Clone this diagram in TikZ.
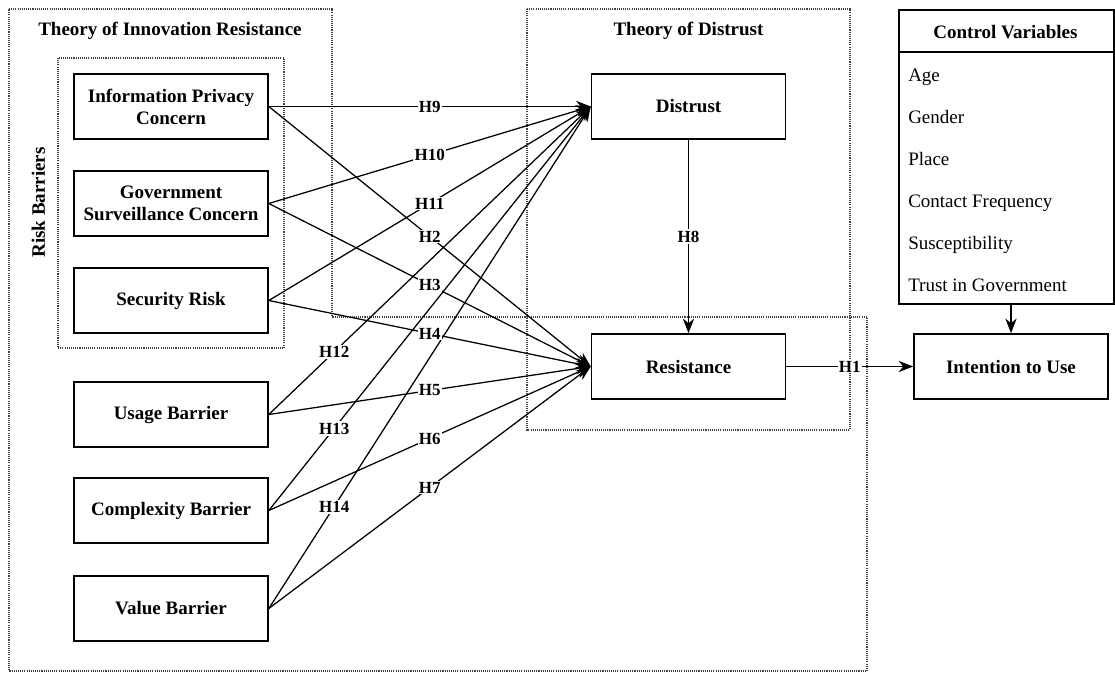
\documentclass[tikz,border=0pt]{standalone}
\usepackage{fontspec}
\setmainfont{Liberation Serif}
\usetikzlibrary{arrows.meta}
\begin{document}
\begin{tikzpicture}[x=0.75pt,y=-0.75pt,
  box/.style={draw, line width=1.2pt, minimum width=145.5pt, minimum height=48.75pt, inner sep=2pt, align=center, font=\bfseries\fontsize{14.25}{16.5}\selectfont},
  lab/.style={fill=white, inner sep=1pt, font=\bfseries\fontsize{12.75}{14}\selectfont},
  link/.style={line width=0.95pt, -{Stealth[length=11pt,width=8.5pt,inset=3.5pt]}},
  frame/.style={line width=0.8pt, black!75, dash pattern=on 0.8pt off 0.8pt},
  title/.style={font=\bfseries\fontsize{14.25}{16.5}\selectfont, anchor=base},
  item/.style={font=\fontsize{14.25}{16.5}\selectfont, anchor=base west, inner sep=0pt}]
\useasboundingbox (0,0) rectangle (1115,672);

% frames
\draw[frame] (9,9) -- (332,9) -- (332,317) -- (867,317) -- (867,671) -- (9,671) -- cycle;
\draw[frame] (58,58) rectangle (284,348);
\draw[frame] (527,9) rectangle (850,430);

% titles
\node[title] (tir) at (170,35.5) {Theory of Innovation Resistance};
\node[title] (tod) at (688.5,35.5) {Theory of Distrust};
\node[title, rotate=90, anchor=center] (rb) at (38.5,202.5) {Risk Barriers};

% boxes
\node[box] (ipc) at (171,106.5) {Information Privacy\\Concern};
\node[box] (gsc) at (171,203.5) {Government\\Surveillance Concern};
\node[box] (sr) at (171,300.5) {Security Risk};
\node[box] (ub) at (171,414.5) {Usage Barrier};
\node[box] (cb) at (171,510.5) {Complexity Barrier};
\node[box] (vb) at (171,608.5) {Value Barrier};
\node[box] (dis) at (688.5,106.5) {Distrust};
\node[box] (res) at (688.5,366.5) {Resistance};
\node[box] (itu) at (1011,366.5) {Intention to Use};

% control variables
\node[draw, line width=1.2pt, minimum width=161.25pt, minimum height=220.5pt, inner sep=0pt, anchor=north west] (cv) at (898,9) {};
\draw[line width=1.2pt] ([yshift=-32.25pt]cv.north west) -- ([yshift=-32.25pt]cv.north east);
\node[title] (cvt) at (1005.5,38.5) {Control Variables};
\node[item] (v1) at (908,81) {Age};
\node[item] (v2) at (908,123) {Gender};
\node[item] (v3) at (908,165) {Place};
\node[item] (v4) at (908,207) {Contact Frequency};
\node[item] (v5) at (908,249) {Susceptibility};
\node[item] (v6) at (908,291) {Trust in Government};

% connectors
\draw[link] (ipc.east) -- (dis.west);
\draw[link] (gsc.east) -- (dis.west);
\draw[link] (sr.east) -- (dis.west);
\draw[link] (ub.east) -- (dis.west);
\draw[link] (cb.east) -- (dis.west);
\draw[link] (vb.east) -- (dis.west);
\draw[link] (ipc.east) -- (res.west);
\draw[link] (gsc.east) -- (res.west);
\draw[link] (sr.east) -- (res.west);
\draw[link] (ub.east) -- (res.west);
\draw[link] (cb.east) -- (res.west);
\draw[link] (vb.east) -- (res.west);
\draw[link] (dis.south) -- (res.north);
\draw[link] (res.east) -- (itu.west);
\draw[link] (itu.north |- cv.south) -- (itu.north);

% labels
\path (ipc.east) -- (dis.west) node[lab,pos=0.5] {H9};
\path (gsc.east) -- (dis.west) node[lab,pos=0.5] {H10};
\path (sr.east) -- (dis.west) node[lab,pos=0.5] {H11};
\path (ub.east) -- (dis.west) node[lab,pos=0.203] {H12};
\path (cb.east) -- (dis.west) node[lab,pos=0.203] {H13};
\path (vb.east) -- (dis.west) node[lab,pos=0.203] {H14};
\path (ipc.east) -- (res.west) node[lab,pos=0.5] {H2};
\path (gsc.east) -- (res.west) node[lab,pos=0.5] {H3};
\path (sr.east) -- (res.west) node[lab,pos=0.5] {H4};
\path (ub.east) -- (res.west) node[lab,pos=0.5] {H5};
\path (cb.east) -- (res.west) node[lab,pos=0.5] {H6};
\path (vb.east) -- (res.west) node[lab,pos=0.5] {H7};
\path (dis.south) -- (res.north) node[lab,pos=0.5] {H8};
\path (res.east) -- (itu.west) node[lab,pos=0.5] {H1};
\end{tikzpicture}
\end{document}
